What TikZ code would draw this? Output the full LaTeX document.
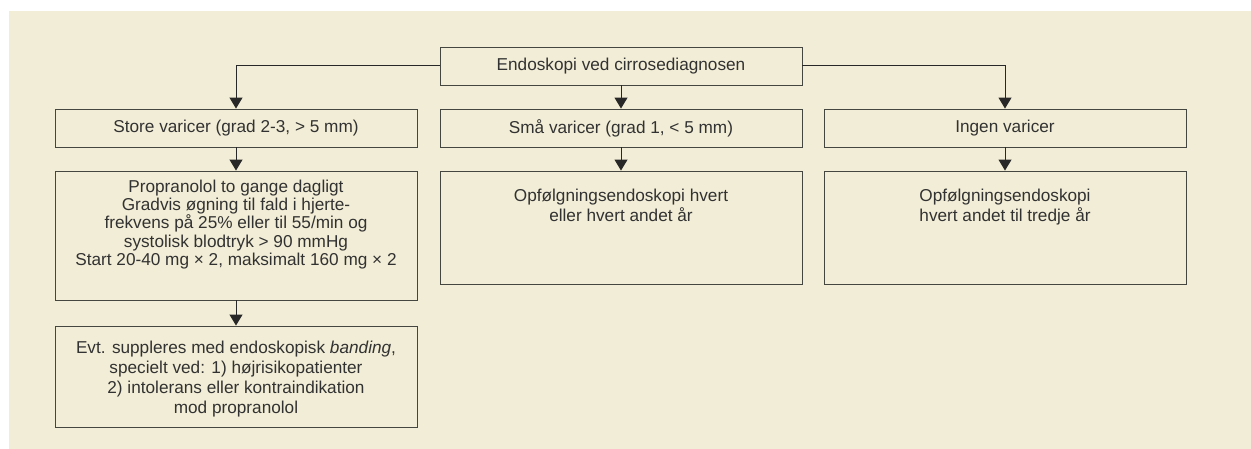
\documentclass[tikz,border=0pt]{standalone}
\usepackage{fontspec}
\setmainfont{Liberation Sans}
\usetikzlibrary{arrows.meta}
\definecolor{bgc}{RGB}{242,237,214}
\definecolor{linec}{RGB}{40,40,40}
\definecolor{boxc}{RGB}{70,70,65}
\definecolor{txtc}{RGB}{50,50,50}
\begin{document}
\begin{tikzpicture}[x=1pt,y=-1pt,
  every node/.style={font=\fontsize{17.2}{19.6}\selectfont, text=txtc},
  box/.style={draw=boxc, line width=0.9pt, fill=bgc, minimum width=362pt, inner sep=0pt, align=center},
  txt/.style={inner sep=0pt, align=center, anchor=north},
  arr/.style={draw=linec, line width=1pt, -{Triangle[width=13pt,length=11pt]}}]
\useasboundingbox (0,0) rectangle (1251,449);
\fill[bgc] (9,11) rectangle (1251,449);
% row 1
\node[box, minimum height=38pt] (top) at (621,66) {Endoskopi ved cirrosediagnosen};
% row 2
\node[box, minimum height=38pt] (store) at (236,128) {Store varicer (grad 2-3, > 5 mm)};
\node[box, minimum height=38pt] (smaa) at (621,128) {Små varicer (grad 1, < 5 mm)};
\node[box, minimum height=38pt] (ingen) at (1005,128) {Ingen varicer};
% row 3
\node[box, minimum height=129pt] (prop) at (236,235.5) {};
\node[txt, font=\fontsize{17.2}{18.4}\selectfont] (proptxt) at (236,179.5) {Propranolol to gange dagligt\\Gradvis øgning til fald i hjerte-\\frekvens på 25\% eller til 55/min og\\systolisk blodtryk > 90 mmHg\\Start 20-40 mg × 2, maksimalt 160 mg × 2};
\node[box, minimum height=113pt] (opf1) at (621,227.5) {};
\node[txt, font=\fontsize{17.2}{20}\selectfont] (opf1txt) at (621,188.5) {Opfølgningsendoskopi hvert\\eller hvert andet år};
\node[box, minimum height=113pt] (opf2) at (1005,227.5) {};
\node[txt, font=\fontsize{17.2}{20}\selectfont] (opf2txt) at (1005,188.5) {Opfølgningsendoskopi\\hvert andet til tredje år};
% row 4
\node[box, minimum height=101pt] (evt) at (236,376.5) {};
\node[txt, font=\fontsize{17.2}{20}\selectfont] (evttxt) at (236,341) {Evt. suppleres med endoskopisk \textit{banding},\\specielt ved: 1) højrisikopatienter\\2) intolerans eller kontraindikation\\mod propranolol};
% connectors
\draw[arr] (top.west) -| (store.north);
\draw[arr] (top.east) -| (ingen.north);
\draw[arr] (top.south) -- (smaa.north);
\draw[arr] (store.south) -- (prop.north);
\draw[arr] (smaa.south) -- (opf1.north);
\draw[arr] (ingen.south) -- (opf2.north);
\draw[arr] (prop.south) -- (evt.north);
\end{tikzpicture}
\end{document}
